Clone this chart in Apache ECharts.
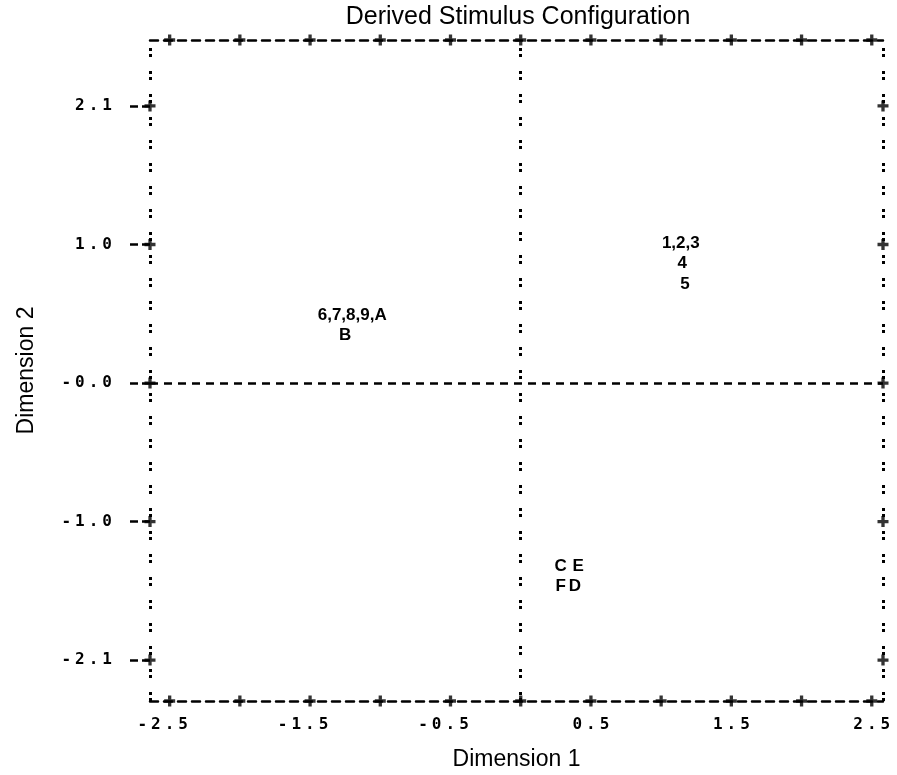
<!DOCTYPE html>
<html>
<head>
<meta charset="utf-8">
<script src="https://cdn.jsdelivr.net/npm/echarts@6/dist/echarts.min.js"></script>
<style>
html, body { margin: 0; padding: 0; background: #fff; }
#chart { width: 897px; height: 775px; }
</style>
</head>
<body>
<div id="chart"></div>
<script>
// stimulus labels and their coordinates (Dimension 1, Dimension 2)
const stimulusLabels = ['1,2,3', '4', '5', '6,7,8,9,A', 'B', 'C', 'E', 'F', 'D'];
const dim1 = [1.14, 1.15, 1.17, -1.20, -1.25, 0.285, 0.41, 0.285, 0.385];
const dim2 = [1.06, 0.91, 0.75, 0.51, 0.36, -1.39, -1.39, -1.54, -1.54];

// frame ticks (the "+" marks) and tick labels
const xTicks = [-2.5, -2.0, -1.5, -1.0, -0.5, 0, 0.5, 1.0, 1.5, 2.0, 2.5];
const xLabelVals = [-2.5, -1.5, -0.5, 0.5, 1.5, 2.5];
const xTickLabels = ['-2.5', '-1.5', '-0.5', '0.5', '1.5', '2.5'];
const yTicks = [2.1, 1.05, 0, -1.05, -2.1];
const yTickLabels = ['2.1', '1.0', '-0.0', '-1.0', '-2.1'];

const xMin = -2.64, xMax = 2.58;
const yMin = -2.41, yMax = 2.6;

const ink = '#000';
const dashed = { color: ink, width: 2.5, type: [8, 6] };
const colons = { color: ink, width: 3, type: [3, 3, 3, 14] };
const plus = 'path://M3.5,0H6.5V3.5H10V6.5H6.5V10H3.5V6.5H0V3.5H3.5Z';
// printer-style spaced characters; negative labels keep the digits under the tick
const spaced = s => s.split('').map(c => '{c|' + c + '}').join('');
const printerRich = {
  c: { fontFamily: 'DejaVu Sans Mono', fontWeight: 'bold', fontSize: 16, color: ink, padding: [0, 2, 0, 2] },
  pad: { width: 14 }
};

const plusData = [];
xTicks.forEach(x => { plusData.push([x, yMin]); plusData.push([x, yMax]); });
yTicks.forEach(y => { plusData.push([xMin, y]); plusData.push([xMax, y]); });

const points = stimulusLabels.map((n, i) => ({ name: n, value: [dim1[i], dim2[i]] }));

const chart = echarts.init(document.getElementById('chart'));
chart.setOption({
  animation: false,
  backgroundColor: '#fff',
  title: {
    text: 'Derived Stimulus Configuration',
    left: 513, top: 0, textAlign: 'center',
    textStyle: { fontFamily: 'Liberation Sans', fontSize: 25, fontWeight: 'normal', color: ink }
  },
  grid: { left: 150, right: 14, top: 40, bottom: 74, outerBoundsMode: 'none' },
  xAxis: [{
    type: 'value', min: xMin, max: xMax, position: 'bottom',
    name: 'Dimension 1', nameLocation: 'middle', nameGap: 47,
    nameTextStyle: { fontFamily: 'Liberation Sans', fontSize: 23, color: ink },
    axisLine: { show: true, onZero: false, lineStyle: dashed },
    axisTick: { show: false },
    splitLine: { show: false },
    axisLabel: {
      customValues: xLabelVals, margin: 16, color: ink, rich: printerRich,
      formatter: v => {
        const t = xTickLabels[xLabelVals.indexOf(v)];
        return spaced(t) + (t[0] === '-' ? '{pad|}' : '');
      }
    }
  }, {
    type: 'value', min: xMin, max: xMax, position: 'top',
    axisLine: { show: true, onZero: false, lineStyle: dashed },
    axisTick: { show: false }, axisLabel: { show: false }, splitLine: { show: false }
  }],
  yAxis: {
    type: 'value', min: yMin, max: yMax, position: 'left',
    name: 'Dimension 2', nameLocation: 'middle', nameGap: 112, nameRotate: 90,
    nameTextStyle: { fontFamily: 'Liberation Sans', fontSize: 23, color: ink },
    axisLine: { show: false, onZero: false },
    axisTick: { show: true, customValues: yTicks, length: 20, lineStyle: { color: ink, width: 2.5, type: [8, 4] } },
    splitLine: { show: false },
    axisLabel: {
      customValues: yTicks, margin: 36, color: ink, rich: printerRich,
      formatter: v => spaced(yTickLabels[yTicks.indexOf(v)])
    }
  },
  series: [{
    type: 'scatter',
    data: plusData,
    symbol: plus, symbolSize: 11,
    itemStyle: { color: ink },
    silent: true, z: 3,
    markLine: {
      silent: true, symbol: 'none', label: { show: false },
      data: [
        { xAxis: xMin, lineStyle: colons },
        { xAxis: xMax, lineStyle: colons },
        { xAxis: 0, lineStyle: colons },
        { yAxis: 0, lineStyle: dashed }
      ]
    }
  }, {
    type: 'scatter',
    data: points,
    symbolSize: 0.1,
    itemStyle: { color: ink },
    z: 4,
    label: {
      show: true, position: 'inside', formatter: p => p.name,
      fontFamily: 'Liberation Sans', fontWeight: 'bold', fontSize: 17, color: ink, opacity: 1
    }
  }]
});
</script>
</body>
</html>
